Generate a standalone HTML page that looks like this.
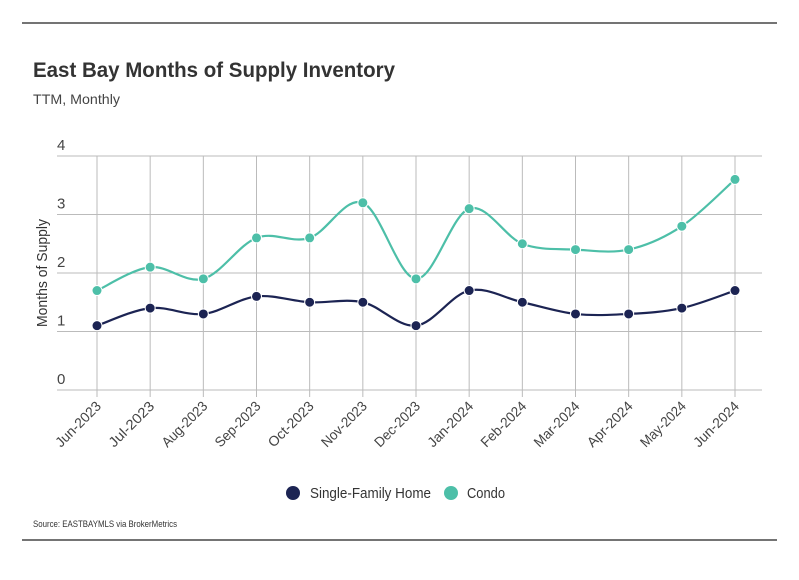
<!DOCTYPE html>
<html><head><meta charset="utf-8"><style>
body{margin:0;background:#fff;font-family:"Liberation Sans",sans-serif}
svg text{font-family:"Liberation Sans",sans-serif}
</style></head><body>
<svg id="chart" width="799" height="575" viewBox="0 0 799 575" xmlns="http://www.w3.org/2000/svg">
<line x1="22" y1="23" x2="777" y2="23" stroke="#222" stroke-width="1.2"/>
<text x="33" y="77" font-size="21" font-weight="bold" fill="#333" textLength="362" lengthAdjust="spacingAndGlyphs">East Bay Months of Supply Inventory</text>
<text x="33" y="104" font-size="14" fill="#444" textLength="87" lengthAdjust="spacingAndGlyphs">TTM, Monthly</text>
<text transform="translate(47,273) rotate(-90)" text-anchor="middle" font-size="15" fill="#333" textLength="108" lengthAdjust="spacingAndGlyphs">Months of Supply</text>
<g id="grid"></g><g id="series"></g><g id="xlabels"></g>
<g>
<circle cx="293" cy="493" r="7" fill="#1c2453"/>
<text x="310" y="498" font-size="15" fill="#333" textLength="121" lengthAdjust="spacingAndGlyphs">Single-Family Home</text>
<circle cx="451" cy="493" r="7" fill="#4dbfa8"/>
<text x="467" y="498" font-size="15" fill="#333" textLength="38" lengthAdjust="spacingAndGlyphs">Condo</text>
</g>
<text x="33" y="527" font-size="9.5" fill="#333" textLength="144" lengthAdjust="spacingAndGlyphs">Source:  EASTBAYMLS via BrokerMetrics</text>
<line x1="22" y1="540" x2="777" y2="540" stroke="#222" stroke-width="1.2"/>
</svg>
<script>
const categories=["Jun-2023","Jul-2023","Aug-2023","Sep-2023","Oct-2023","Nov-2023","Dec-2023","Jan-2024","Feb-2024","Mar-2024","Apr-2024","May-2024","Jun-2024"];
const sfhValues=[1.1,1.4,1.3,1.6,1.5,1.5,1.1,1.7,1.5,1.3,1.3,1.4,1.7];
const condoValues=[1.7,2.1,1.9,2.6,2.6,3.2,1.9,3.1,2.5,2.4,2.4,2.8,3.6];
const yTicks=[0,1,2,3,4];
const NS="http://www.w3.org/2000/svg";
const x=i=>97+i*(735-97)/(categories.length-1);
const y=v=>390-v*(390-156)/4;
function mk(t,a,p){const e=document.createElementNS(NS,t);for(const k in a)e.setAttribute(k,a[k]);p.appendChild(e);return e;}
const grid=document.getElementById('grid');
yTicks.forEach(t=>{
 const l=mk('line',{x1:57,x2:762,y1:y(t),y2:y(t),stroke:'#bbb','stroke-width':1},grid);
 
 
 const tx=mk('text',{x:57,y:y(t)-6,'font-size':15,fill:'#444'},grid);tx.textContent=t;
 
 
});
const xl=document.getElementById('xlabels');
categories.forEach((c,i)=>{
 const l=mk('line',{x1:x(i),x2:x(i),y1:156,y2:397,stroke:'#bbb','stroke-width':1},grid);
 
 
 const t=mk('text',{transform:`translate(${x(i)+5},${407}) rotate(-45)`,'text-anchor':'end','font-size':14,fill:'#444',textLength:58,lengthAdjust:'spacingAndGlyphs'},xl);t.textContent=c;
 
 
});
function path(vals){
 const p=vals.map((v,i)=>[x(i),y(v)]);let d=`M${p[0][0]},${p[0][1]}`;
 for(let i=0;i<p.length-1;i++){const p0=p[i-1]||p[i],p1=p[i],p2=p[i+1],p3=p[i+2]||p2;
  d+=` C${p1[0]+(p2[0]-p0[0])/6},${p1[1]+(p2[1]-p0[1])/6} ${p2[0]-(p3[0]-p1[0])/6},${p2[1]-(p3[1]-p1[1])/6} ${p2[0]},${p2[1]}`;}
 return d;}
const sg=document.getElementById('series');
[[condoValues,'#4dbfa8','condo'],[sfhValues,'#1c2453','sfh']].forEach(([vals,col,n])=>{
 const pa=mk('path',{d:path(vals),fill:'none',stroke:col,'stroke-width':2.2},sg);
 
 
 vals.forEach((v,i)=>{const c=mk('circle',{cx:x(i),cy:y(v),r:5,fill:col,stroke:'#fff','stroke-width':1},sg);
  
  });
});
</script>
</body></html>
